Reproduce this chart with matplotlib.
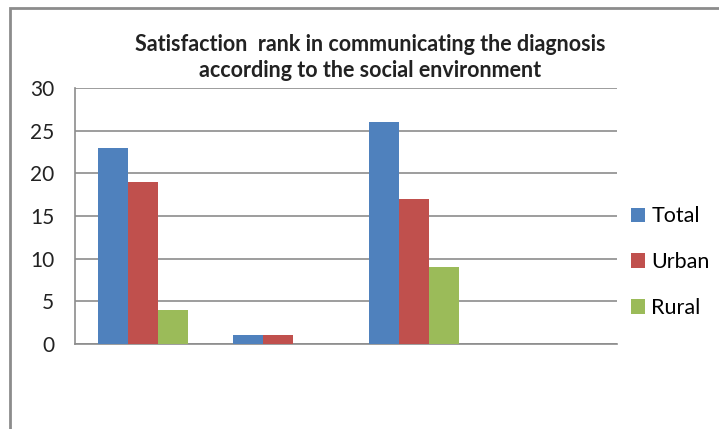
import matplotlib.pyplot as plt
import matplotlib.patches as mpatches
import numpy as np

plt.rcParams['font.family'] = ['Lato', 'DejaVu Sans']

categories = ['', '', '', '']
series = ['Total', 'Urban', 'Rural']
total = [23, 1, 26, 0]
urban = [19, 1, 17, 0]
rural = [4, 0, 9, 0]
colors = ['#4F81BD', '#C0504D', '#9BBB59']
yticks = [0, 5, 10, 15, 20, 25, 30]

fig = plt.figure(figsize=(7.19, 4.29), dpi=100)
# outer chart frame (cut at right and bottom like the picture)
fig.patches.append(mpatches.Rectangle((10/719, -0.1), 1.2, 1 - 8/429 + 0.1,
                                      transform=fig.transFigure, fill=False,
                                      edgecolor='#8c8c8c', linewidth=2))

ax = fig.add_axes([75/719, 85/429, 542/719, 256/429])
x = np.arange(len(categories))
w = 0.222
for i, (vals, c) in enumerate(zip([total, urban, rural], colors)):
    ax.bar(x + (i - 1) * w, vals, w, color=c, label=series[i], zorder=3)

ax.set_xlim(-0.5, 3.5)
ax.set_ylim(0, 30)
ax.set_yticks(yticks)
ax.set_xticks([])
ax.yaxis.grid(True, color='#8c8c8c', linewidth=1.2, zorder=0)
ax.tick_params(axis='y', length=0, labelsize=15, pad=15, colors='#222222')
for s in ['top', 'right']:
    ax.spines[s].set_visible(False)
for s in ['left', 'bottom']:
    ax.spines[s].set_color('#8c8c8c')
    ax.spines[s].set_linewidth(1.2)

fig.text(370/719, 1 - 34/429, 'Satisfaction  rank in communicating the diagnosis\naccording to the social environment',
         ha='center', va='top', fontsize=15.5, fontweight='bold', color='#222222', linespacing=1.3)

ax.legend(loc='center left', bbox_to_anchor=(0.99, 0.32), frameon=False, fontsize=15.5,
          handlelength=0.65, handleheight=0.65, handletextpad=0.3, labelspacing=1.2)

fig.savefig('out.png', dpi=100)
